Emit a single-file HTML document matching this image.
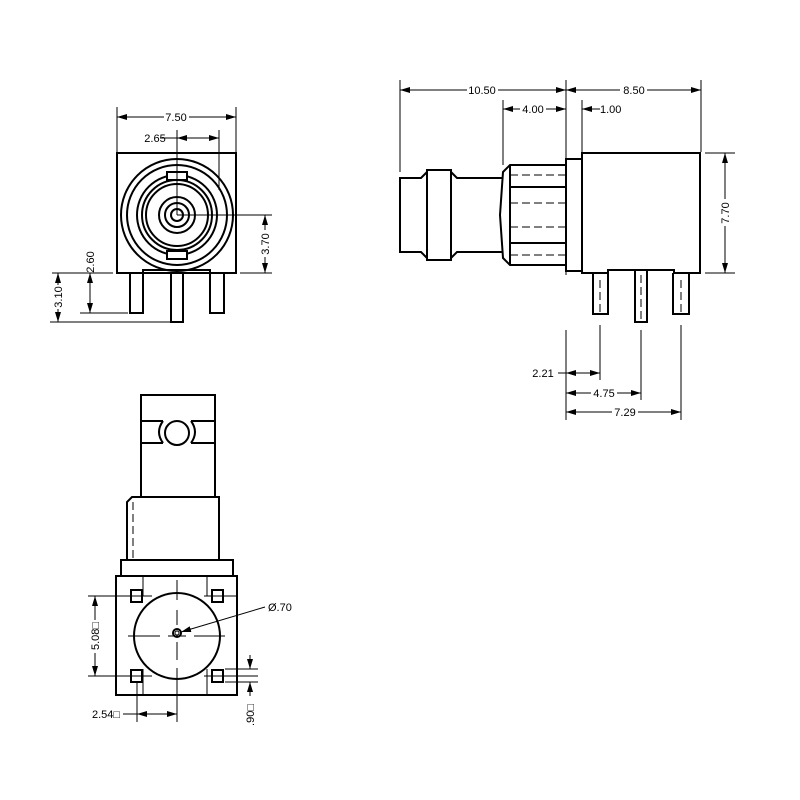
<!DOCTYPE html>
<html><head><style>body{margin:0;background:#fff}svg{display:block}</style></head><body>
<svg width="800" height="800" viewBox="0 0 800 800" xmlns="http://www.w3.org/2000/svg" font-family="Liberation Sans, sans-serif" font-size="11">
<defs>
<marker id="a" viewBox="0 0 10 6" refX="10" refY="3" markerWidth="10" markerHeight="6" orient="auto-start-reverse" markerUnits="userSpaceOnUse"><path d="M0,0L10,3L0,6z" fill="#000"/></marker>
</defs>
<rect width="800" height="800" fill="#fff"/>
<g stroke="#000" fill="none">
<!-- FRONT VIEW -->
<g stroke-width="2">
<rect x="117" y="153" width="119" height="120"/>
<circle cx="177" cy="215" r="56"/>
<circle cx="177" cy="215" r="50"/>
<circle cx="177" cy="215" r="40"/>
<circle cx="177" cy="215" r="35"/>
<circle cx="177" cy="215" r="31"/>
<circle cx="177" cy="215" r="18"/>
<circle cx="177" cy="215" r="12"/>
<circle cx="177" cy="215" r="6"/>
<rect x="167" y="172" width="20" height="8" fill="#fff"/>
<rect x="167" y="251" width="20" height="8" fill="#fff"/>
<path d="M143,273V270H210V273"/>
<rect x="130" y="273" width="13" height="40"/>
<rect x="171" y="273" width="12" height="49"/>
<rect x="210" y="273" width="14" height="40"/>
</g>
<g stroke-width="1">
<path d="M117,107V152M236,107V152M177,130V215M219,130V190M177,215H272M240,273H272M52,273H113M80,313H128M50,322H170"/>
<path d="M117,117H236" marker-start="url(#a)" marker-end="url(#a)"/>
<path d="M177,138H219" marker-start="url(#a)" marker-end="url(#a)"/>
<path d="M160,138H177"/>
<path d="M265,215V273" marker-start="url(#a)" marker-end="url(#a)"/>
<path d="M90,273V313" marker-start="url(#a)" marker-end="url(#a)"/>
<path d="M58,273V322" marker-start="url(#a)" marker-end="url(#a)"/>
</g>
<!-- SIDE VIEW -->
<g stroke-width="2">
<path d="M582,153H700V273H674V270H608V273H582Z"/>
<rect x="566" y="159" width="16" height="112"/>
<path d="M510,165H566V265H510L503,258L500,215L503,172Z"/>
<path d="M510,165V265M510,187H566M510,243H566"/>
<path d="M503,178H457L451,172M427,172L421,178H400V252H421L427,258M451,258L457,252H503"/>
<rect x="427" y="170" width="24" height="90"/>
<path d="M593,273V314H608V273M635,270V322H647V270M673,273V314H689V273"/>
</g>
<g stroke-width="1">
<path d="M510,175H566M510,203H566M510,227H566M510,255H566M600,280V312M641,275V320M681,280V312" stroke-dasharray="8,4"/>
<path d="M400,80V172M566,80V275M566,330V420M701,80V152M503,100V165M582,100V152M705,153H735M705,273H735M600,325V380M641,330V400M681,325V420"/>
<path d="M400,90H566" marker-start="url(#a)" marker-end="url(#a)"/>
<path d="M566,90H701" marker-start="url(#a)" marker-end="url(#a)"/>
<path d="M503,109H566" marker-start="url(#a)" marker-end="url(#a)"/>
<path d="M600,109H582" marker-end="url(#a)"/>
<path d="M725,153V273" marker-start="url(#a)" marker-end="url(#a)"/>
<path d="M566,373H600" marker-start="url(#a)" marker-end="url(#a)"/>
<path d="M558,373H566"/>
<path d="M566,393H641" marker-start="url(#a)" marker-end="url(#a)"/>
<path d="M566,412H681" marker-start="url(#a)" marker-end="url(#a)"/>
</g>
<!-- BOTTOM VIEW -->
<g stroke-width="2">
<rect x="141" y="395" width="74" height="102"/>
<path d="M141,421H163M191,421H215M141,443H163M191,443H215"/>
<path d="M163,421Q155,432 163,443M191,421Q199,432 191,443"/>
<circle cx="177" cy="433" r="12"/>
<path d="M127,560V502L132,497H219V560"/>
<rect x="121" y="560" width="112" height="16"/>
<rect x="116" y="576" width="121" height="119"/>
<circle cx="177" cy="636" r="43"/>
<rect x="131" y="590" width="11" height="12"/>
<rect x="212" y="590" width="11" height="12"/>
<rect x="131" y="670" width="11" height="12"/>
<rect x="212" y="670" width="11" height="12"/>
<circle cx="177" cy="633" r="4"/>
<circle cx="177" cy="633" r="2" stroke-width="1"/>
</g>
<g stroke-width="1">
<path d="M133,502V560" stroke-dasharray="8,4"/>
<path d="M177,580V600M177,610V625M177,642V660M177,668V722M128,636H160M168,636H186M194,636H225" />
<path d="M143,576V596M143,669V695M207,576V596M207,669V695M116,596H152M116,676H152M204,596H237M204,676H258M88,596H126M88,676H126M137,682V722M225,669H258M225,682H258"/>
<path d="M95,596V676" marker-start="url(#a)" marker-end="url(#a)"/>
<path d="M137,714H177" marker-start="url(#a)" marker-end="url(#a)"/>
<path d="M123,714H137"/>
<path d="M250,655V669" marker-end="url(#a)"/>
<path d="M250,696V682" marker-end="url(#a)"/>
<path d="M265,607L181,632" marker-end="url(#a)"/>
</g>
</g>
<g fill="#fff">
<rect x="164" y="111" width="25" height="12"/>
<rect x="259" y="230" width="12" height="27"/>
<rect x="52" y="285" width="12" height="24"/>
<rect x="467" y="84" width="31" height="12"/>
<rect x="620" y="84" width="27" height="12"/>
<rect x="520" y="103" width="26" height="12"/>
<rect x="719" y="199" width="12" height="27"/>
<rect x="591" y="387" width="26" height="12"/>
<rect x="612" y="406" width="26" height="12"/>
<rect x="89" y="620" width="12" height="33"/>
</g>
<g fill="#000">
<text x="176" y="121" text-anchor="middle">7.50</text>
<text x="155" y="142" text-anchor="middle">2.65</text>
<text transform="translate(269,244) rotate(-90)" text-anchor="middle">3.70</text>
<text transform="translate(94,262) rotate(-90)" text-anchor="middle">2.60</text>
<text transform="translate(62,297) rotate(-90)" text-anchor="middle">3.10</text>
<text x="482" y="94" text-anchor="middle">10.50</text>
<text x="634" y="94" text-anchor="middle">8.50</text>
<text x="533" y="113" text-anchor="middle">4.00</text>
<text x="600" y="113">1.00</text>
<text transform="translate(729,213) rotate(-90)" text-anchor="middle">7.70</text>
<text x="543" y="377" text-anchor="middle">2.21</text>
<text x="604" y="397" text-anchor="middle">4.75</text>
<text x="625" y="416" text-anchor="middle">7.29</text>
<text transform="translate(99,636) rotate(-90)" text-anchor="middle">5.08□</text>
<text x="268" y="611">Ø.70</text>
<text x="106" y="718" text-anchor="middle">2.54□</text>
<text transform="translate(254,715) rotate(-90)" text-anchor="middle">.90□</text>
</g>
</svg>
</body></html>
